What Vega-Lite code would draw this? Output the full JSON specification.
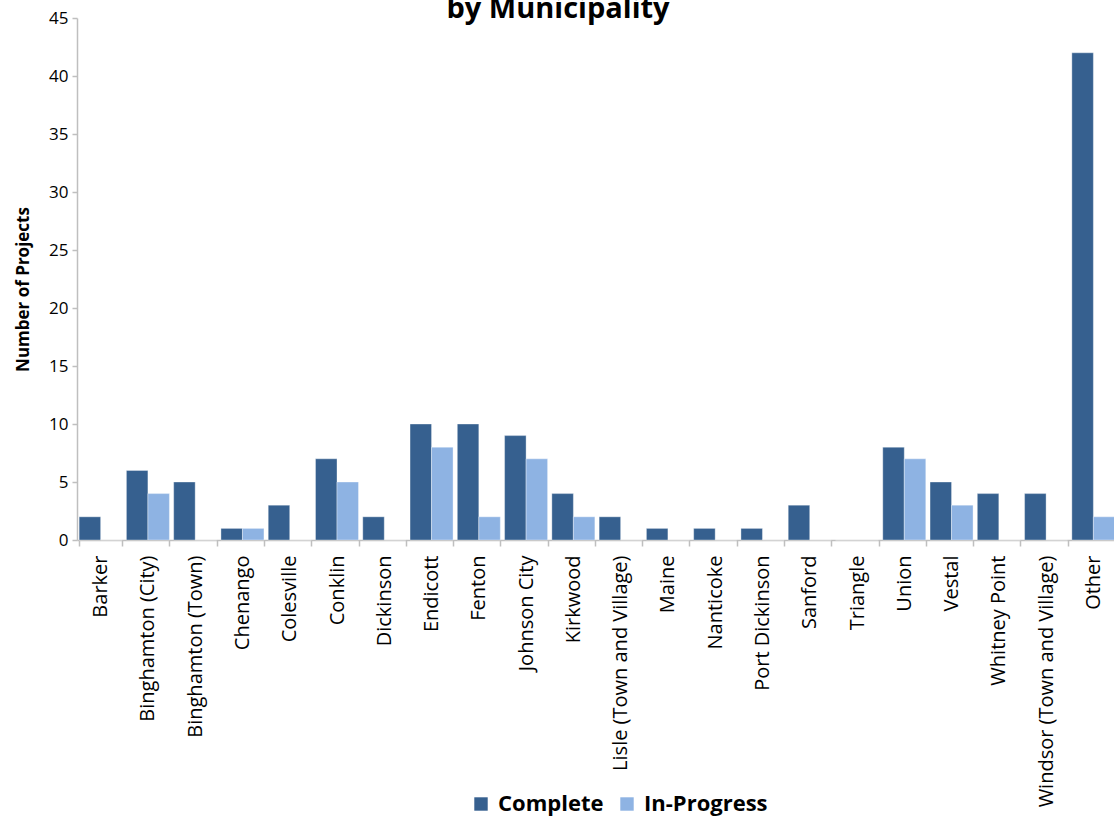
{
  "$schema": "https://vega.github.io/schema/vega-lite/v6.json",
  "width": 1040,
  "height": 522,
  "autosize": {"type": "none"},
  "padding": {"left": 77, "top": 18, "right": 0, "bottom": 279},
  "background": "white",
  "title": {
    "text": "by Municipality",
    "font": "Open Sans",
    "fontSize": 29,
    "fontWeight": "bold",
    "color": "#000000",
    "anchor": "middle",
    "offset": -15,
    "dx": -39
  },
  "data": {
    "values": [
      {"m": "Barker", "s": "Complete", "v": 2}, {"m": "Barker", "s": "In-Progress", "v": 0},
      {"m": "Binghamton (City)", "s": "Complete", "v": 6}, {"m": "Binghamton (City)", "s": "In-Progress", "v": 4},
      {"m": "Binghamton (Town)", "s": "Complete", "v": 5}, {"m": "Binghamton (Town)", "s": "In-Progress", "v": 0},
      {"m": "Chenango", "s": "Complete", "v": 1}, {"m": "Chenango", "s": "In-Progress", "v": 1},
      {"m": "Colesville", "s": "Complete", "v": 3}, {"m": "Colesville", "s": "In-Progress", "v": 0},
      {"m": "Conklin", "s": "Complete", "v": 7}, {"m": "Conklin", "s": "In-Progress", "v": 5},
      {"m": "Dickinson", "s": "Complete", "v": 2}, {"m": "Dickinson", "s": "In-Progress", "v": 0},
      {"m": "Endicott", "s": "Complete", "v": 10}, {"m": "Endicott", "s": "In-Progress", "v": 8},
      {"m": "Fenton", "s": "Complete", "v": 10}, {"m": "Fenton", "s": "In-Progress", "v": 2},
      {"m": "Johnson City", "s": "Complete", "v": 9}, {"m": "Johnson City", "s": "In-Progress", "v": 7},
      {"m": "Kirkwood", "s": "Complete", "v": 4}, {"m": "Kirkwood", "s": "In-Progress", "v": 2},
      {"m": "Lisle (Town and Village)", "s": "Complete", "v": 2}, {"m": "Lisle (Town and Village)", "s": "In-Progress", "v": 0},
      {"m": "Maine", "s": "Complete", "v": 1}, {"m": "Maine", "s": "In-Progress", "v": 0},
      {"m": "Nanticoke", "s": "Complete", "v": 1}, {"m": "Nanticoke", "s": "In-Progress", "v": 0},
      {"m": "Port Dickinson", "s": "Complete", "v": 1}, {"m": "Port Dickinson", "s": "In-Progress", "v": 0},
      {"m": "Sanford", "s": "Complete", "v": 3}, {"m": "Sanford", "s": "In-Progress", "v": 0},
      {"m": "Triangle", "s": "Complete", "v": 0}, {"m": "Triangle", "s": "In-Progress", "v": 0},
      {"m": "Union", "s": "Complete", "v": 8}, {"m": "Union", "s": "In-Progress", "v": 7},
      {"m": "Vestal", "s": "Complete", "v": 5}, {"m": "Vestal", "s": "In-Progress", "v": 3},
      {"m": "Whitney Point", "s": "Complete", "v": 4}, {"m": "Whitney Point", "s": "In-Progress", "v": 0},
      {"m": "Windsor (Town and Village)", "s": "Complete", "v": 4}, {"m": "Windsor (Town and Village)", "s": "In-Progress", "v": 0},
      {"m": "Other", "s": "Complete", "v": 42}, {"m": "Other", "s": "In-Progress", "v": 2}
    ]
  },
  "mark": {"type": "bar", "stroke": "#ffffff", "strokeWidth": 0.6, "strokeOpacity": 0.6},
  "encoding": {
    "x": {
      "field": "m",
      "type": "nominal",
      "sort": null,
      "scale": {"paddingInner": 0.09, "paddingOuter": 0.045},
      "axis": {
        "title": null,
        "labelAngle": -90,
        "labelFont": "Open Sans",
        "labelFontSize": 20,
        "labelColor": "#000000",
        "labelPadding": 9,
        "labelLimit": 300,
        "tickBand": "extent",
        "tickColor": "#BFBFBF",
        "tickSize": 6,
        "domainColor": "#BFBFBF",
        "domainWidth": 1.5,
        "tickWidth": 1.5,
        "grid": false
      }
    },
    "xOffset": {"field": "s", "type": "nominal", "sort": ["Complete", "In-Progress"]},
    "y": {
      "field": "v",
      "type": "quantitative",
      "scale": {"domain": [0, 45], "nice": false},
      "axis": {
        "title": "Number of Projects",
        "titleFont": "Open Sans",
        "titleFontSize": 17,
        "titleFontWeight": "bold",
        "titleColor": "#000000",
        "titlePadding": 16,
        "titleY": 271,
        "values": [0, 5, 10, 15, 20, 25, 30, 35, 40, 45],
        "labelFont": "Open Sans",
        "labelFontSize": 17,
        "labelColor": "#000000",
        "labelPadding": 4,
        "tickColor": "#BFBFBF",
        "tickSize": 5,
        "tickWidth": 1.5,
        "domainColor": "#BFBFBF",
        "domainWidth": 1.5,
        "grid": false
      }
    },
    "color": {
      "field": "s",
      "type": "nominal",
      "scale": {"domain": ["Complete", "In-Progress"], "range": ["#36608F", "#8EB3E3"]},
      "legend": {
        "title": null,
        "orient": "none",
        "direction": "horizontal",
        "legendX": 393,
        "legendY": 775,
        "symbolType": "square",
        "symbolSize": 180,
        "symbolStrokeWidth": 0,
        "labelFont": "Open Sans",
        "labelFontSize": 22,
        "labelFontWeight": "bold",
        "labelColor": "#000000",
        "columnPadding": 12,
        "labelOffset": 6
      }
    }
  },
  "config": {"view": {"stroke": null}}
}
